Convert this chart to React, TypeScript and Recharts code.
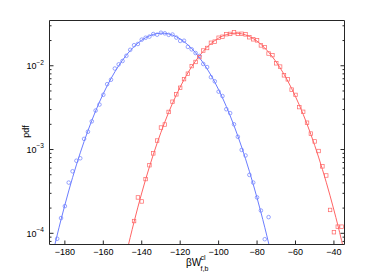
import { ComposedChart, Line, Scatter, XAxis, YAxis } from 'recharts'

// fitted curves, read every 4 units
const blueFitX = [-190, -186, -182, -178, -174, -170, -166, -162, -158, -154, -150, -146, -142, -138, -134, -130, -126, -122, -118, -114, -110, -106, -102, -98, -94, -90, -86, -82, -78, -74, -70]
const blueFitPdf = [2.37e-5, 6.12e-5, 1.455e-4, 3.2e-4, 6.55e-4, 1.247e-3, 2.217e-3, 3.69e-3, 5.76e-3, 8.45e-3, 1.166e-2, 1.517e-2, 1.862e-2, 2.159e-2, 2.365e-2, 2.449e-2, 2.398e-2, 2.22e-2, 1.942e-2, 1.605e-2, 1.252e-2, 9.21e-3, 6.37e-3, 4.15e-3, 2.534e-3, 1.449e-3, 7.74e-4, 3.85e-4, 1.785e-4, 7.65e-5, 3.03e-5]

const redFitX = [-152, -148, -144, -140, -136, -132, -128, -124, -120, -116, -112, -108, -104, -100, -96, -92, -88, -84, -80, -76, -72, -68, -64, -60, -56, -52, -48, -44, -40, -36, -32]
const redFitPdf = [2.2e-5, 5.71e-5, 1.367e-4, 3.03e-4, 6.22e-4, 1.191e-3, 2.129e-3, 3.56e-3, 5.58e-3, 8.23e-3, 1.14e-2, 1.49e-2, 1.837e-2, 2.139e-2, 2.353e-2, 2.447e-2, 2.406e-2, 2.237e-2, 1.966e-2, 1.632e-2, 1.278e-2, 9.44e-3, 6.57e-3, 4.29e-3, 2.636e-3, 1.515e-3, 8.13e-4, 4.07e-4, 1.896e-4, 8.17e-5, 3.26e-5]

// histogram points, 2-unit bins
const blueObsX = [-184, -182, -180, -178, -176, -174, -172, -170, -168, -166, -164, -162, -160, -158, -156, -154, -152, -150, -148, -146, -144, -142, -140, -138, -136, -134, -132, -130, -128, -126, -124, -122, -120, -118, -116, -114, -112, -110, -108, -106, -104, -102, -100, -98, -96, -94, -92, -90, -88, -86, -84, -82, -80, -78, -76, -74]
const blueObsPdf = [8.6e-5, 1.52e-4, 2.11e-4, 4.03e-4, 5.5e-4, 7.35e-4, 7.87e-4, 1.34e-3, 1.63e-3, 2.17e-3, 2.92e-3, 3.44e-3, 4.5e-3, 6.03e-3, 6.81e-3, 9.27e-3, 1.04e-2, 1.14e-2, 1.315e-2, 1.55e-2, 1.76e-2, 1.82e-2, 2.05e-2, 2.16e-2, 2.23e-2, 2.39e-2, 2.35e-2, 2.48e-2, 2.44e-2, 2.34e-2, 2.36e-2, 2.17e-2, 1.98e-2, 1.99e-2, 1.68e-2, 1.57e-2, 1.42e-2, 1.31e-2, 1.05e-2, 9.64e-3, 7.31e-3, 6.52e-3, 4.91e-3, 4.35e-3, 3.03e-3, 2.72e-3, 2.0e-3, 1.42e-3, 9.89e-4, 8.49e-4, 4.98e-4, 4.03e-4, 2.68e-4, 1.87e-4, 8.5e-5, 1.56e-4]

const redObsX = [-144, -142, -140, -138, -136, -134, -132, -130, -128, -126, -124, -122, -120, -118, -116, -114, -112, -110, -108, -106, -104, -102, -100, -98, -96, -94, -92, -90, -88, -86, -84, -82, -80, -78, -76, -74, -72, -70, -68, -66, -64, -62, -60, -58, -56, -54, -52, -50, -48, -46, -44, -42, -40, -38, -36]
const redObsPdf = [1.4e-4, 2.68e-4, 2.4e-4, 4.44e-4, 6.5e-4, 9.0e-4, 1.28e-3, 1.83e-3, 1.99e-3, 2.81e-3, 3.72e-3, 4.56e-3, 5.46e-3, 6.93e-3, 8.04e-3, 9.91e-3, 1.11e-2, 1.27e-2, 1.52e-2, 1.63e-2, 1.88e-2, 1.94e-2, 2.16e-2, 2.22e-2, 2.38e-2, 2.4e-2, 2.51e-2, 2.4e-2, 2.41e-2, 2.37e-2, 2.19e-2, 2.07e-2, 2.01e-2, 1.75e-2, 1.67e-2, 1.4e-2, 1.34e-2, 1.07e-2, 9.77e-3, 7.69e-3, 6.89e-3, 5.19e-3, 4.49e-3, 3.21e-3, 2.82e-3, 2.09e-3, 1.55e-3, 1.25e-3, 9.6e-4, 6.3e-4, 4.9e-4, 1.9e-4, 1.03e-4, 1.2e-4, 1.2e-4]

const xTicks = [-180, -160, -140, -120, -100, -80, -60, -40]
const yMajor = [1e-4, 1e-3, 1e-2]
const yTicks = [8e-5, 9e-5, 1e-4, 2e-4, 3e-4, 4e-4, 5e-4, 6e-4, 7e-4, 8e-4, 9e-4, 1e-3, 2e-3, 3e-3, 4e-3, 5e-3, 6e-3, 7e-3, 8e-3, 9e-3, 1e-2, 2e-2, 3e-2]

const X_DOMAIN = [-188, -34.5]
const Y_DOMAIN = [7.35e-5, 3.47e-2]

const BLUE = '#6b7dff'
const RED = '#ff6464'
const AXIS = '#262626'
const FONT = '"Liberation Sans", Arial, Helvetica, sans-serif'

const zip = (xs: number[], ys: number[]) => xs.map((x, i) => ({ x, pdf: ys[i] }))
const blueFit = zip(blueFitX, blueFitPdf)
const redFit = zip(redFitX, redFitPdf)
const blueObs = zip(blueObsX, blueObsPdf)
const redObs = zip(redObsX, redObsPdf)

const fmtX = (v: number) => (v < 0 ? '\u2212' + Math.abs(v) : String(v))

function BottomTick({ x, y, payload }: any) {
  return (
    <g>
      <line x1={x} x2={x} y1={y} y2={y - 4} stroke={AXIS} />
      <text x={x} y={y + 10} textAnchor="middle" fontSize={9} fill="#000" fontFamily={FONT}>
        {fmtX(payload.value)}
      </text>
    </g>
  )
}

function TopTick({ x, y }: any) {
  return <line x1={x} x2={x} y1={y} y2={y + 4} stroke={AXIS} />
}

function LeftTick({ x, y, payload }: any) {
  const v = payload.value
  const major = yMajor.includes(v)
  return (
    <g>
      <line x1={x} x2={x + (major ? 4 : 2)} y1={y} y2={y} stroke={AXIS} />
      {major && (
        <text x={x - 5.5} y={y + 3.3} textAnchor="end" fontSize={9} fill="#000" fontFamily={FONT}>
          10
          <tspan dy={-4.5} fontSize={6.5}>{'\u2212' + Math.abs(Math.round(Math.log10(v)))}</tspan>
        </text>
      )}
    </g>
  )
}

function RightTick({ x, y, payload }: any) {
  const major = yMajor.includes(payload.value)
  return <line x1={x} x2={x - (major ? 4 : 2)} y1={y} y2={y} stroke={AXIS} />
}

const Circle = (p: any) => <circle cx={p.cx} cy={p.cy} r={1.8} fill="none" stroke={BLUE} strokeWidth={0.7} />
const Square = (p: any) => <rect x={p.cx - 1.75} y={p.cy - 1.75} width={3.5} height={3.5} fill="none" stroke={RED} strokeWidth={0.7} />

export default function App() {
  return (
    <div style={{ position: 'absolute', left: 0, top: 0, width: 382, height: 275, background: '#fff' }}>
      <ComposedChart width={382} height={275} margin={{ top: 0, right: 0, bottom: 0, left: 0 }}>
        <XAxis
          dataKey="x"
          type="number"
          domain={X_DOMAIN}
          ticks={xTicks}
          interval={0}
          allowDataOverflow
          height={30.5}
          tickSize={0}
          tickMargin={0}
          stroke={AXIS}
          tick={<BottomTick />}
        />
        <XAxis
          xAxisId="t"
          orientation="top"
          type="number"
          domain={X_DOMAIN}
          ticks={xTicks}
          interval={0}
          allowDataOverflow
          height={20.5}
          tickSize={0}
          tickMargin={0}
          stroke={AXIS}
          tick={<TopTick />}
        />
        <YAxis
          dataKey="pdf"
          type="number"
          scale="log"
          domain={Y_DOMAIN}
          ticks={yTicks}
          interval={0}
          allowDataOverflow
          width={49.5}
          tickSize={0}
          tickMargin={0}
          stroke={AXIS}
          tick={<LeftTick />}
        />
        <YAxis
          yAxisId="r"
          orientation="right"
          type="number"
          scale="log"
          domain={Y_DOMAIN}
          ticks={yTicks}
          interval={0}
          allowDataOverflow
          width={37.5}
          tickSize={0}
          tickMargin={0}
          stroke={AXIS}
          tick={<RightTick />}
        />
        <Line data={blueFit} dataKey="pdf" type="natural" stroke={BLUE} strokeWidth={1} dot={false} isAnimationActive={false} />
        <Line data={redFit} dataKey="pdf" type="natural" stroke={RED} strokeWidth={1} dot={false} isAnimationActive={false} />
        <Scatter data={blueObs} dataKey="pdf" shape={Circle} isAnimationActive={false} />
        <Scatter data={redObs} dataKey="pdf" shape={Square} isAnimationActive={false} />
      </ComposedChart>
      <svg width={382} height={275} style={{ position: 'absolute', left: 0, top: 0, pointerEvents: 'none' }}>
        <text transform="translate(28.5,131.5) rotate(-90)" textAnchor="middle" fontSize={9} fill="#000" fontFamily={FONT}>
          pdf
        </text>
        <text x={186} y={266} fontSize={10} fill="#000" fontFamily={FONT}>{'\u03b2W'}</text>
        <text x={200.5} y={259.5} fontSize={7} fill="#000" fontFamily={FONT}>cl</text>
        <text x={200.5} y={271} fontSize={7} fill="#000" fontFamily={FONT}>f,b</text>
      </svg>
    </div>
  )
}
